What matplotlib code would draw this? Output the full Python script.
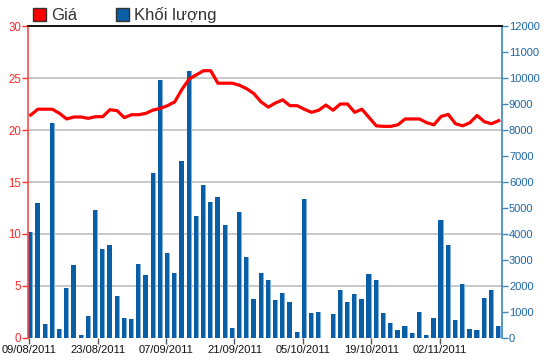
import matplotlib
matplotlib.use("Agg")
import matplotlib.pyplot as plt
from matplotlib.patches import Patch
import numpy as np

plt.rcParams['font.family'] = ['Liberation Sans', 'DejaVu Sans']

# Data
price = [21.44, 22.0, 22.0, 22.0, 21.6, 21.06, 21.25, 21.25, 21.12, 21.28,
         21.28, 21.95, 21.86, 21.19, 21.47, 21.47, 21.6, 21.92, 22.08, 22.34,
         22.7, 23.9, 24.9, 25.3, 25.7, 25.7, 24.5, 24.5, 24.5, 24.3,
         23.97, 23.5, 22.7, 22.2, 22.6, 22.9, 22.34, 22.34, 22.0, 21.7,
         21.9, 22.4, 21.9, 22.5, 22.5, 21.7, 22.0, 21.2, 20.4, 20.35,
         20.35, 20.5, 21.06, 21.06, 21.06, 20.7, 20.5, 21.3, 21.5, 20.6,
         20.4, 20.7, 21.4, 20.8, 20.6, 20.9]
volume = [4090, 5205, 550, 8270, 346, 1936, 2795, 115, 846, 4910,
          3423, 3564, 1615, 782, 731, 2846, 2410, 6346, 9910, 3270,
          2500, 6820, 10270, 4705, 5870, 5244, 5436, 4333, 385, 4846,
          3128, 1500, 2500, 2218, 1449, 1744, 1397, 244, 5346, 974,
          1013, 0, 923, 1833, 1397, 1692, 1500, 2461, 2218, 962,
          590, 295, 449, 192, 1013, 115, 782, 4526, 3564, 692,
          2077, 346, 295, 1551, 1833, 449]
tick_labels = ['09/08/2011', '23/08/2011', '07/09/2011', '21/09/2011',
               '05/10/2011', '19/10/2011', '02/11/2011']

x = np.arange(len(price))

fig = plt.figure(figsize=(5.5, 3.64), dpi=100)
ax = fig.add_axes([28/550, 26/364, 474/550, 312/364])
ax2 = ax.twinx()
ax.set_zorder(ax2.get_zorder() + 1)
ax.patch.set_visible(False)

red = '#ff0000'
blue = '#0a5ea6'
axblue = '#3a86bd'

# grid (behind bars)
for g in range(2000, 12000, 2000):
    ax2.axhline(g, color='#c8c8c8', lw=1.4, zorder=0)

ax2.bar(x, volume, width=0.72, color='#7fb2e0', zorder=2)
ax2.bar(x - 0.06, volume, width=0.6, color=blue, zorder=3)
ax.plot(x, price, color=red, lw=2.3, solid_joinstyle='round', zorder=5)

ax.set_xlim(-0.375, 65.46)
ax.set_ylim(0, 30)
ax2.set_ylim(0, 12000)

ax.set_yticks(range(0, 31, 5))
ax2.set_yticks(range(0, 12001, 1000))
ax.set_xticks([-0.2 + 9.5 * k for k in range(len(tick_labels))])
ax.set_xticklabels(tick_labels)

ax.tick_params(axis='y', colors='#ff2a2a', labelsize=8.3, length=4, width=1, pad=1)
ax2.tick_params(axis='y', colors=axblue, labelcolor='#1c66a6', labelsize=8, length=4, width=1, pad=1)
ax.tick_params(axis='x', colors='#555555', labelcolor='#111111', labelsize=8, length=4, width=1, pad=1)

for a in (ax, ax2):
    a.spines['bottom'].set_visible(False)
    a.spines['top'].set_color('#111111')
    a.spines['top'].set_linewidth(1.2)
ax.spines['left'].set_color('#ff4a4a')
ax.spines['left'].set_linewidth(1.2)
ax.spines['right'].set_visible(False)
ax2.spines['left'].set_visible(False)
ax2.spines['right'].set_color(axblue)
ax2.spines['right'].set_linewidth(1.2)

handles = [Patch(facecolor='#ff0000', edgecolor='#333333', lw=1, label='Giá'),
           Patch(facecolor='#0a5ea6', edgecolor='#333333', lw=1, label='Khối lượng')]
fig.legend(handles=handles, loc='upper left', bbox_to_anchor=(33/550, 1 - 7/364),
           ncol=2, frameon=False, fontsize=12, handlelength=0.8, handleheight=0.8,
           handletextpad=0.3, columnspacing=2.3, borderpad=0, borderaxespad=0,
           labelcolor='#333333')

fig.savefig('out.png', dpi=100)
